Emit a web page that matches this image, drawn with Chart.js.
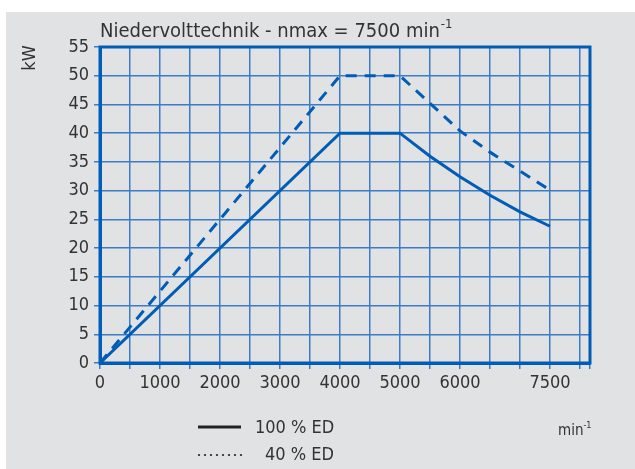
<!DOCTYPE html>
<html><head><meta charset="utf-8">
<script src="https://cdn.jsdelivr.net/npm/chart.js@4"></script>
<style>
html,body{margin:0;padding:0;background:#fff;}
#wrap{position:absolute;left:0;top:0;width:635px;height:469px;}
</style></head>
<body>
<div id="wrap"><canvas id="c" width="635" height="469"></canvas></div>
<script>
const rpm100 = [0, 4000, 5000, 5500, 6000, 6500, 7000, 7500];
const kw100  = [0, 40, 40, 36, 32.4, 29.2, 26.3, 23.8];
const rpm40  = [0, 4000, 5000, 5500, 6000, 6500, 7000, 7500];
const kw40   = [0, 50, 50, 45.2, 40.4, 36.7, 33.4, 30.1];
const xLabels = [0, 1000, 2000, 3000, 4000, 5000, 6000, 7500];
const legendLabels = ['100 % ED', '40 % ED'];
const titleText = 'Niedervolttechnik - nmax = 7500 min';

const FONT = '"DejaVu Sans Condensed", "Liberation Sans Narrow", "Liberation Sans", sans-serif';
const BLUE = '#005cb5';
const GRID = '#3c7bc6';
const TXT = '#333333';

const deco = {
  id: 'deco',
  beforeDraw(chart) {
    const ctx = chart.ctx;
    ctx.save();
    ctx.fillStyle = '#ffffff';
    ctx.fillRect(0, 0, 635, 469);
    ctx.fillStyle = '#e1e2e4';
    ctx.fillRect(6, 12, 629, 457);
    ctx.restore();
  },
  afterDraw(chart) {
    const ctx = chart.ctx;
    const a = chart.chartArea;
    ctx.save();
    ctx.strokeStyle = BLUE;
    ctx.lineWidth = 3;
    ctx.strokeRect(a.left, a.top, a.right - a.left, a.bottom - a.top);
    ctx.fillStyle = TXT;
    ctx.font = '20px ' + FONT;
    ctx.textBaseline = 'alphabetic';
    ctx.textAlign = 'left';
    ctx.fillText(titleText, 100, 37);
    const w = ctx.measureText(titleText).width;
    ctx.font = '13px ' + FONT;
    ctx.fillText('-1', 100 + w + 1, 28);
    ctx.save();
    ctx.translate(35, 58);
    ctx.rotate(-Math.PI / 2);
    ctx.font = '18px ' + FONT;
    ctx.textAlign = 'center';
    ctx.textBaseline = 'alphabetic';
    ctx.fillText('kW', 0, 0);
    ctx.restore();
    ctx.font = '15px ' + FONT;
    ctx.textAlign = 'left';
    ctx.fillText('min', 558, 435);
    const mw = ctx.measureText('min').width;
    ctx.font = '9px ' + FONT;
    ctx.fillText('-1', 558 + mw, 428);
    ctx.strokeStyle = '#222';
    ctx.lineWidth = 3;
    ctx.beginPath(); ctx.moveTo(198, 427); ctx.lineTo(241, 427); ctx.stroke();
    ctx.fillStyle = '#222';
    for (let x = 199; x <= 241; x += 6) { ctx.beginPath(); ctx.arc(x, 455, 1.1, 0, Math.PI * 2); ctx.fill(); }
    ctx.fillStyle = TXT;
    ctx.font = '18px ' + FONT;
    ctx.textBaseline = 'middle';
    ctx.fillText(legendLabels[0], 255, 428);
    ctx.fillText(legendLabels[1], 265, 455);
    ctx.restore();
  }
};

new Chart(document.getElementById('c'), {
  type: 'line',
  data: {
    datasets: [
      { label: legendLabels[0], data: rpm100.map((x, i) => ({ x, y: kw100[i] })),
        borderColor: BLUE, borderWidth: 3, pointRadius: 0, tension: 0, fill: false },
      { label: legendLabels[1], data: rpm40.map((x, i) => ({ x, y: kw40[i] })),
        borderColor: BLUE, borderWidth: 3, borderDash: [11, 8], pointRadius: 0, tension: 0, fill: false }
    ]
  },
  options: {
    responsive: false,
    animation: false,
    devicePixelRatio: 1,
    layout: { padding: { top: 47, right: 45, left: 0, bottom: 0 } },
    plugins: { legend: { display: false }, tooltip: { enabled: false }, title: { display: false } },
    scales: {
      x: {
        type: 'linear', min: 0, max: 8167,
        afterFit(s) { s.height = 106; },
        afterBuildTicks(s) {
          const t = [];
          for (let v = 0; v <= 8000; v += 500) t.push({ value: v });
          t.push({ value: 8167 });
          s.ticks = t;
        },
        ticks: {
          autoSkip: false, maxRotation: 0, minRotation: 0, padding: 4,
          color: TXT, font: { family: FONT, size: 18 },
          callback: v => xLabels.includes(Math.round(v)) ? String(Math.round(v)) : ''
        },
        grid: { color: GRID, lineWidth: 1.5, tickLength: 6, drawTicks: true },
        border: { display: true, color: BLUE, width: 3 }
      },
      y: {
        min: 0, max: 55,
        afterFit(s) { s.width = 100; },
        ticks: { stepSize: 5, padding: 5, color: TXT, font: { family: FONT, size: 18 } },
        grid: { color: GRID, lineWidth: 1.5, tickLength: 6 },
        border: { display: true, color: BLUE, width: 3 }
      }
    }
  },
  plugins: [deco]
});
</script>
</body></html>
